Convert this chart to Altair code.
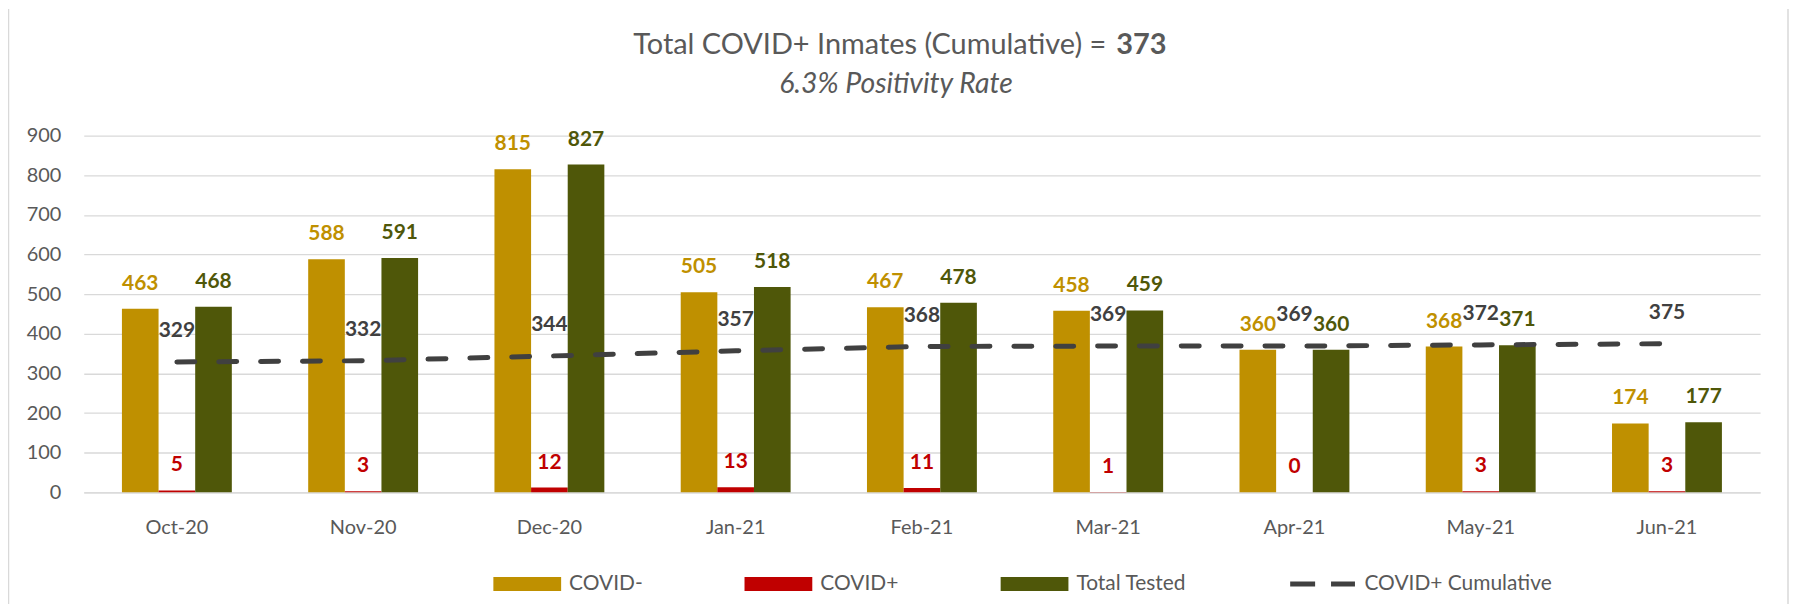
import altair as alt
import pandas as pd

months = ["Oct-20", "Nov-20", "Dec-20", "Jan-21", "Feb-21", "Mar-21", "Apr-21", "May-21", "Jun-21"]
covid_neg = [463, 588, 815, 505, 467, 458, 360, 368, 174]
covid_pos = [5, 3, 12, 13, 11, 1, 0, 3, 3]
total_tested = [468, 591, 827, 518, 478, 459, 360, 371, 177]
cumulative = [329, 332, 344, 357, 368, 369, 369, 372, 375]
series = ["COVID-", "COVID+", "Total Tested"]
line_name = "COVID+ Cumulative"
legend_domain = series + [line_name]
colors = ["#BF9000", "#C00000", "#4F5709", "#404040"]
y_ticks = [0, 100, 200, 300, 400, 500, 600, 700, 800, 900]
title_main = "Total COVID+ Inmates (Cumulative) ="
title_bold = "373"
subtitle = "6.3% Positivity Rate"

rows = []
for i, m in enumerate(months):
    for s, vals in zip(series, [covid_neg, covid_pos, total_tested]):
        rows.append({"month": m, "series": s, "value": vals[i]})
bars_df = pd.DataFrame(rows)
cum_df = pd.DataFrame({"month": months, "value": cumulative})
legend_df = pd.DataFrame({"series": legend_domain})

FONT = "Lato"
GRAY = "#595959"
GRID = "#D9D9D9"

rect_path = "M-1,-0.206H1V0.206H-1Z"
dash_path = "M-0.956,-0.074H-0.22V0.074H-0.956Z M0.25,-0.074H0.956V0.074H0.25Z"
shapes = [rect_path, rect_path, rect_path, dash_path]

legend_def = alt.Legend(
    title=None, orient="none", legendX=411, legendY=416, direction="horizontal",
    symbolSize=4624, symbolType=rect_path, labelOffset=8, columnPadding=102,
    labelFontSize=21, labelFont=FONT, labelColor=GRAY, labelLimit=400,
    symbolStrokeWidth=0, symbolOpacity=1, padding=0,
)

x_enc = alt.X(
    "month:N", sort=months,
    scale=alt.Scale(paddingInner=0.41, paddingOuter=0.205),
    axis=alt.Axis(title=None, labelAngle=0, ticks=False, domain=True, domainColor=GRID,
                  domainWidth=1.3, labelPadding=25, labelFontSize=20, labelFont=FONT,
                  labelColor=GRAY, grid=False),
)
y_axis = alt.Axis(title=None, values=y_ticks, ticks=False, domain=False, grid=True,
                  gridColor=GRID, gridWidth=1.3, labelPadding=23, labelFontSize=20,
                  labelFont=FONT, labelColor=GRAY, labelOverlap=False)
y_enc = alt.Y("value:Q", scale=alt.Scale(domain=[0, 900], nice=False), axis=y_axis)

color_enc = alt.Color("series:N", scale=alt.Scale(domain=legend_domain, range=colors), legend=legend_def)
shape_enc = alt.Shape("series:N", scale=alt.Scale(domain=legend_domain, range=shapes), legend=legend_def)
xoff = alt.XOffset("series:N", sort=series, scale=alt.Scale(domain=series, paddingInner=0, paddingOuter=0))

bars = alt.Chart(bars_df).mark_bar().encode(x=x_enc, y=y_enc, xOffset=xoff, color=color_enc)
bar_labels = alt.Chart(bars_df).mark_text(
    font=FONT, fontSize=21, fontWeight="bold", baseline="alphabetic", dy=-19
).encode(x=x_enc, y=y_enc, xOffset=xoff, color=color_enc, text="value:Q")

legend_pts = alt.Chart(legend_df).mark_point(filled=True, size=10, opacity=1).encode(
    x=alt.value(-3000), y=alt.value(-3000), color=color_enc, shape=shape_enc)

line = alt.Chart(cum_df).mark_line(
    strokeDash=[18, 24], strokeCap="round", strokeWidth=5, color="#404040"
).encode(x=x_enc, y=y_enc)
line_labels = alt.Chart(cum_df).mark_text(
    font=FONT, fontSize=21, fontWeight="bold", baseline="alphabetic", dy=-25, color="#404040"
).encode(x=x_enc, y=y_enc, text="value:Q")

t1 = alt.Chart(pd.DataFrame({"t": [title_main]})).mark_text(
    font=FONT, fontSize=29, align="right", baseline="alphabetic", color=GRAY
).encode(x=alt.value(1026), y=alt.value(-82), text="t:N")
t2 = alt.Chart(pd.DataFrame({"t": [title_bold]})).mark_text(
    font=FONT, fontSize=29, fontWeight="bold", align="left", baseline="alphabetic", color=GRAY
).encode(x=alt.value(1036), y=alt.value(-82), text="t:N")
t3 = alt.Chart(pd.DataFrame({"t": [subtitle]})).mark_text(
    font=FONT, fontSize=28.5, fontStyle="italic", align="center", baseline="alphabetic", color=GRAY
).encode(x=alt.value(815), y=alt.value(-43), text="t:N")

border_l = alt.Chart(pd.DataFrame({"a": [0]})).mark_rule(color=GRID, strokeWidth=1.5).encode(
    x=alt.value(-75.5), y=alt.value(-127), y2=alt.value(470))
border_r = alt.Chart(pd.DataFrame({"a": [0]})).mark_rule(color=GRID, strokeWidth=1.5).encode(
    x=alt.value(1710), y=alt.value(-127), y2=alt.value(470))

chart = alt.layer(bars, bar_labels, legend_pts, line, line_labels, t1, t2, t3, border_l, border_r).resolve_scale(
    y="shared"
).properties(
    width=1682, height=358,
    autosize=alt.AutoSizeParams(type="none"),
    padding={"left": 76, "top": 127, "right": 29, "bottom": 112},
    background="white",
).configure_view(stroke=None)

chart.save("out.html", embed_options={"renderer": "svg", "actions": False})
